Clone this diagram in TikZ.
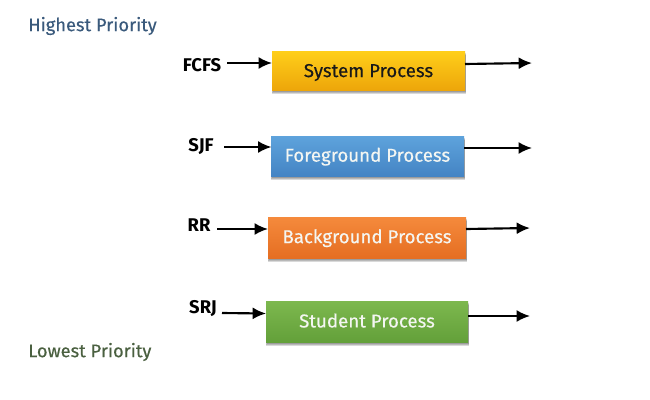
\documentclass[tikz,border=0pt]{standalone}
\usepackage{fontspec}
\setmainfont{Fira Sans}
\newfontfamily\softheavy[FakeBold=0.35]{Fira Sans}
\usetikzlibrary{arrows.meta}
\definecolor{headblue}{HTML}{3A5A7C}
\definecolor{lowgreen}{HTML}{4A6040}
\definecolor{yt}{HTML}{FFCF1A}\definecolor{yb}{HTML}{EDA60A}
\definecolor{bt}{HTML}{5EA3DC}\definecolor{bb}{HTML}{4484C4}
\definecolor{ot}{HTML}{F58A3C}\definecolor{ob}{HTML}{E56E22}
\definecolor{gt}{HTML}{7DB84E}\definecolor{gb}{HTML}{63A03A}
\definecolor{softw}{HTML}{F4F6F2}
\tikzset{
  lab/.style={inner sep=0pt,font=\fontsize{13.8pt}{15pt}\selectfont\bfseries,text=black},
  prio/.style={inner sep=0pt,anchor=west,font=\fontsize{13.7pt}{15pt}\softheavy\selectfont,text=#1},
  ptext/.style={inner sep=0pt,font=\fontsize{14pt}{15pt}\softheavy\selectfont,text=#1},
  conn/.style={draw=black,line width=1.6pt,-{Latex[length=10pt,width=9pt]}}
}
% name, x1, y1, x2, y2, top colour, bottom colour
\newcommand{\procbox}[7]{%
  \foreach \k in {1,2,3,4}{
    \fill[black,opacity=0.15] ({#2-\k*0.25+1},{#3+\k}) rectangle ({#4+\k*0.25},{#5+\k});
  }
  \path[shade,top color=#6,bottom color=#7] (#2,#3) rectangle (#4,#5);
  \node[inner sep=0pt,minimum width={(#4-#2)*0.75pt},minimum height={(#5-#3)*0.75pt}] (#1) at ({(#2+#4)/2},{(#3+#5)/2}) {};
}
\begin{document}
\begin{tikzpicture}[x=0.75pt,y=-0.75pt]
\useasboundingbox (0,0) rectangle (650,400);
\fill[white] (0,0) rectangle (650,400);
\node[prio=headblue] (hi) at (28,26) {Highest Priority};
\node[prio=lowgreen] (lo) at (28,352) {Lowest Priority};
\procbox{sys}{272}{51}{465}{90}{yt}{yb}
\procbox{fg}{271}{136}{464}{176}{bt}{bb}
\procbox{bg}{268}{217}{466}{258}{ot}{ob}
\procbox{st}{266}{301}{468}{342}{gt}{gb}
\node[ptext=black!90] (syst) at ([yshift=-1.5pt]sys.center) {System Process};
\node[ptext=softw] (fgt) at ([yshift=-0.5pt]fg.center) {Foreground Process};
\node[ptext=softw] (bgt) at ([yshift=-0.5pt]bg.center) {Background Process};
\node[ptext=softw] (stt) at ([yshift=0.7pt]st.center) {Student Process};
\node[lab] (a) at (202,65.5) {FCFS};
\node[lab] (b) at (201,146.5) {SJF};
\node[lab] (c) at (199,225.5) {RR};
\node[lab] (d) at (203,308.5) {SRJ};
\coordinate (a0) at (227,63); \coordinate (a1) at (272,63);
\coordinate (b0) at (224,147); \coordinate (b1) at (271.5,147);
\coordinate (c0) at (217,229); \coordinate (c1) at (268,229);
\coordinate (d0) at (222,313); \coordinate (d1) at (266,313.5);
\coordinate (e0) at (465,64); \coordinate (e1) at (532,63);
\coordinate (f0) at (464,148); \coordinate (f1) at (532,148);
\coordinate (g0) at (466,229); \coordinate (g1) at (530,228);
\coordinate (h0) at (468,316); \coordinate (h1) at (530,316);
\draw[conn] (a0) -- (a1);
\draw[conn] (b0) -- (b1);
\draw[conn] (c0) -- (c1);
\draw[conn] (d0) -- (d1);
\draw[conn] (e0) -- (e1);
\draw[conn] (f0) -- (f1);
\draw[conn] (g0) -- (g1);
\draw[conn] (h0) -- (h1);
\end{tikzpicture}
\end{document}
